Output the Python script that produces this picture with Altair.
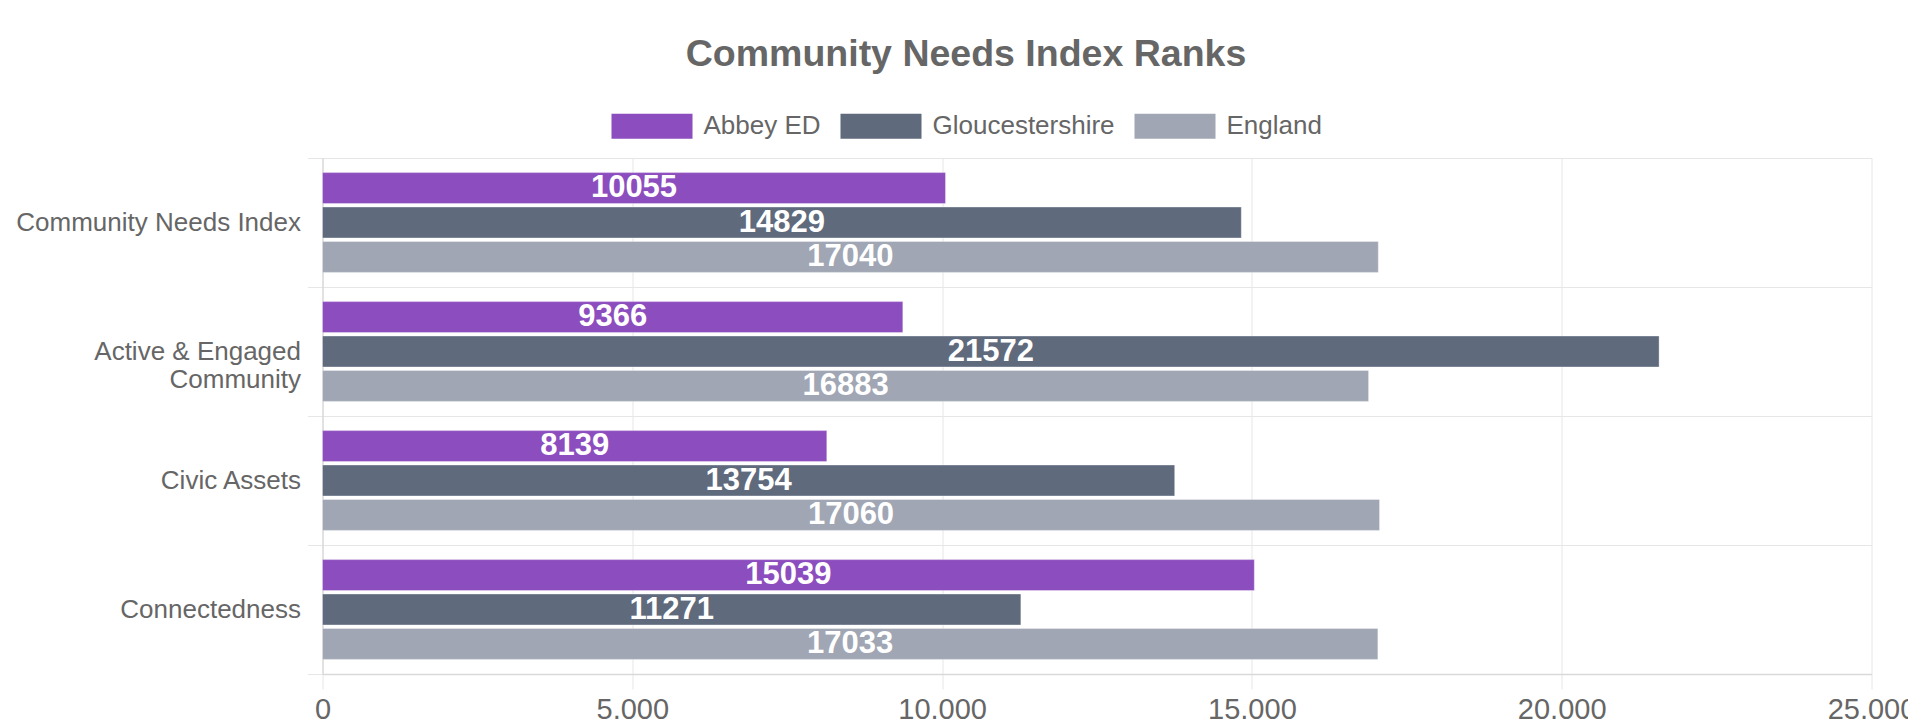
import altair as alt
import pandas as pd

categories = ["Community Needs Index", "Active & Engaged Community", "Civic Assets", "Connectedness"]
series = ["Abbey ED", "Gloucestershire", "England"]
abbey_ed = [10055, 9366, 8139, 15039]
gloucestershire = [14829, 21572, 13754, 11271]
england = [17040, 16883, 17060, 17033]
colors = ["#8C4DBE", "#5F6A7D", "#A0A6B3"]
x_ticks = [0, 5000, 10000, 15000, 20000, 25000]

rows = []
for i, c in enumerate(categories):
    for s, vals in zip(series, [abbey_ed, gloucestershire, england]):
        rows.append({"category": c, "series": s, "value": vals[i]})
df = pd.DataFrame(rows)

FONT = "Liberation Sans"
GRID = "#e6e6e6"
TXT = "#666666"

x_scale = alt.Scale(domain=[0, 25000], nice=False)
y_scale = alt.Scale(paddingInner=0, paddingOuter=0)
yoff_scale = alt.Scale(paddingInner=0.1, paddingOuter=0.425)

x_axis = alt.Axis(
    values=x_ticks,
    labelExpr="replace(format(datum.value, ',.0f'), '.', ',')",
    grid=True,
    gridColor=GRID,
    tickColor=GRID,
    tickSize=15,
    domainColor="#d9d9d9",
    domainWidth=1.5,
    labelFont=FONT,
    labelFontSize=29,
    labelColor=TXT,
    labelPadding=6,
    labelLimit=0,
    labelFlush=False,
    labelOverlap=False,
    title=None,
)
y_axis = alt.Axis(
    tickBand="extent",
    grid=True,
    gridColor=GRID,
    tickColor=GRID,
    tickSize=15,
    domainColor="#d0d0d0",
    labelFont=FONT,
    labelFontSize=26,
    labelColor=TXT,
    labelPadding=7,
    labelLineHeight=28,
    labelLimit=0,
    labelExpr="datum.value == 'Active & Engaged Community' ? ['Active & Engaged', 'Community'] : datum.value",
    title=None,
)

bars = alt.Chart(df).mark_bar(stroke="white", strokeOpacity=0.35, strokeWidth=1).encode(
    x=alt.X("value:Q", title=None, scale=x_scale, axis=x_axis),
    y=alt.Y("category:N", sort=categories, title=None, scale=y_scale, axis=y_axis),
    yOffset=alt.YOffset("series:N", sort=series, scale=yoff_scale),
    color=alt.Color(
        "series:N",
        sort=series,
        scale=alt.Scale(domain=series, range=colors),
        legend=alt.Legend(
            title=None,
            orient="none",
            direction="horizontal",
            legendX=289,
            legendY=-72.5,
            symbolType="M-1,-0.31L1,-0.31L1,0.31L-1,0.31Z",
            symbolSize=6561,
            symbolStrokeWidth=0,
            symbolOpacity=1,
            labelFont=FONT,
            labelFontSize=26,
            labelColor=TXT,
            labelOffset=11,
            labelLimit=0,
            columnPadding=19,
            padding=0,
        ),
    ),
)

labels = alt.Chart(df).transform_calculate(half="datum.value / 2").mark_text(
    font=FONT, fontSize=31, fontWeight="bold", color="white", align="center", baseline="middle"
).encode(
    x=alt.X("half:Q", title=None, scale=x_scale, axis=x_axis),
    y=alt.Y("category:N", sort=categories, title=None, scale=y_scale, axis=y_axis),
    yOffset=alt.YOffset("series:N", sort=series, scale=yoff_scale),
    text="value:Q",
)

chart = (
    alt.layer(bars, labels)
    .properties(
        width=1549,
        height=516,
        autosize=alt.AutoSizeParams(type="none"),
        padding={"left": 314.5, "top": 150, "right": 36, "bottom": 45},
        title=alt.TitleParams(
            "Community Needs Index Ranks",
            font=FONT,
            fontSize=37.5,
            fontWeight="bold",
            color=TXT,
            anchor="middle",
            dx=-131,
            offset=12,
        ),
    )
    .configure_view(stroke=None)
)

chart.save("out.html", embed_options={"renderer": "svg", "actions": False})
